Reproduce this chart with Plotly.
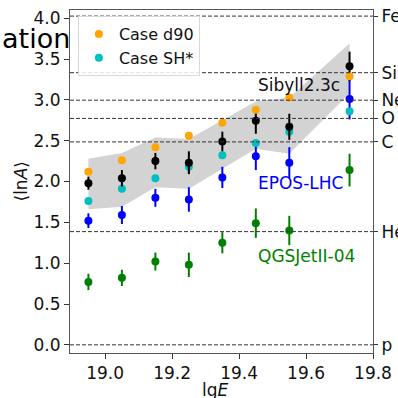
import numpy as np
import plotly.graph_objects as go

# ---- data ----
lgE = [18.95, 19.05, 19.15, 19.25, 19.35, 19.45, 19.55, 19.73]

data_lnA = [1.98, 2.04, 2.25, 2.23, 2.49, 2.745, 2.67, 3.41]
data_err = [0.08, 0.10, 0.10, 0.14, 0.12, 0.16, 0.16, 0.18]

case_d90 = [2.12, 2.26, 2.42, 2.56, 2.72, 2.88, 3.03, 3.29]
case_sh = [1.76, 1.91, 2.04, 2.18, 2.32, 2.47, 2.61, 2.86]

epos = [1.52, 1.59, 1.80, 1.78, 2.05, 2.31, 2.23, 3.01]
epos_err = [0.09, 0.11, 0.11, 0.15, 0.13, 0.17, 0.19, 0.25]

qgs = [0.77, 0.82, 1.02, 0.98, 1.25, 1.49, 1.40, 2.14]
qgs_err = [0.10, 0.10, 0.11, 0.15, 0.13, 0.18, 0.18, 0.20]

band_upper = [2.28, 2.35, 2.54, 2.52, 2.75, 2.98, 3.03, 3.69]
band_lower = [1.66, 1.69, 1.93, 1.91, 2.15, 2.40, 2.34, 3.08]

elements = ["p", "He", "C", "O", "Ne", "Si", "Fe"]
mass_numbers = [1, 4, 12, 16, 20, 28, 56]
element_lnA = [float(np.log(a)) for a in mass_numbers]

x_range = [18.895, 19.8]
y_range = [-0.1, 4.1]

FONT = "DejaVu Sans"
fig = go.Figure()

# Sibyll band
fig.add_trace(go.Scatter(
    x=lgE + lgE[::-1], y=band_upper + band_lower[::-1],
    fill="toself", fillcolor="rgba(200,200,200,0.8)", line=dict(width=0),
    mode="lines", showlegend=False, hoverinfo="skip"))

# element lines
for v in element_lnA:
    fig.add_hline(y=v, line=dict(color="#333333", width=1, dash="4px,2px"))

def pts(y, err, color, name=None, legend=False):
    return go.Scatter(
        x=lgE, y=y, mode="markers", name=name, showlegend=legend,
        marker=dict(color=color, size=8),
        error_y=dict(type="data", array=err, visible=err is not None,
                     color=color, thickness=2, width=0))

fig.add_trace(pts(epos, epos_err, "#0000FF"))
fig.add_trace(pts(qgs, qgs_err, "#008000"))
fig.add_trace(pts(case_sh, None, "#00BFBF", "Case SH*", True))
fig.add_trace(pts(data_lnA, data_err, "#000000"))
fig.add_trace(pts(case_d90, None, "#FFA500", "Case d90", True))

# invisible trace on right axis
fig.add_trace(go.Scatter(x=[lgE[0]] * len(element_lnA), y=element_lnA, yaxis="y2",
                         mode="markers", marker=dict(opacity=0), showlegend=False,
                         hoverinfo="skip"))

# model labels
fig.add_annotation(x=19.45, y=3.18, text="Sibyll2.3c", showarrow=False,
                   xanchor="left", yanchor="middle", font=dict(size=17, color="#111111", family=FONT))
fig.add_annotation(x=19.45, y=1.98, text="EPOS-LHC", showarrow=False,
                   xanchor="left", yanchor="middle", font=dict(size=17, color="#0000FF", family=FONT))
fig.add_annotation(x=19.45, y=1.09, text="QGSJetII-04", showarrow=False,
                   xanchor="left", yanchor="middle", font=dict(size=17, color="#008000", family=FONT))

# axis titles and clipped title
fig.add_annotation(xref="paper", yref="paper", x=0.48, y=-0.108, text="lg<i>E</i>",
                   showarrow=False, xanchor="center", yanchor="middle",
                   font=dict(size=17, color="#111111", family=FONT))
fig.add_annotation(xref="paper", yref="paper", x=-0.165, y=0.5, text="⟨ln<i>A</i>⟩",
                   showarrow=False, textangle=-90, xanchor="center", yanchor="middle",
                   font=dict(size=17, color="#111111", family=FONT))
fig.add_annotation(xref="paper", yref="paper", x=-0.231, y=0.918, text="ation",
                   showarrow=False, xanchor="left", yanchor="middle",
                   font=dict(size=27, color="#000000", family=FONT))

axis_common = dict(showgrid=False, zeroline=False, ticks="outside", ticklen=5,
                   tickcolor="#333333", linecolor="#555555", linewidth=1,
                   automargin=False,
                   tickfont=dict(size=17, color="#111111", family=FONT))

fig.update_layout(
    width=398, height=398,
    margin=dict(l=70, r=25, t=10, b=45, autoexpand=False),
    plot_bgcolor="white", paper_bgcolor="white",
    font=dict(family=FONT),
    xaxis=dict(range=x_range, tickvals=[19.0, 19.2, 19.4, 19.6, 19.8],
               ticktext=["19.0", "19.2", "19.4", "19.6", "19.8"],
               mirror=True, showline=True, **axis_common),
    yaxis=dict(range=y_range, tickvals=[0, 0.5, 1, 1.5, 2, 2.5, 3, 3.5, 4],
               ticktext=["0.0", "0.5", "1.0", "1.5", "2.0", "2.5", "3.0", "3.5", "4.0"],
               mirror=True, showline=True, **axis_common),
    yaxis2=dict(range=y_range, overlaying="y", side="right", tickvals=element_lnA,
                ticktext=elements, showline=False, showgrid=False, zeroline=False,
                ticks="outside", ticklen=4, tickcolor="#333333", automargin=False,
                tickfont=dict(size=17, color="#111111", family=FONT)),
    legend=dict(x=0.026, y=0.982, xanchor="left", yanchor="top",
                bgcolor="rgba(255,255,255,0.85)", bordercolor="#d8d8d8", borderwidth=1,
                font=dict(size=16, color="#111111", family=FONT),
                traceorder="reversed", tracegroupgap=0),
    showlegend=True,
)

fig.write_html("out.html", config={"displayModeBar": False},
               post_script="document.body.style.margin='0';document.body.style.overflow='hidden';")
